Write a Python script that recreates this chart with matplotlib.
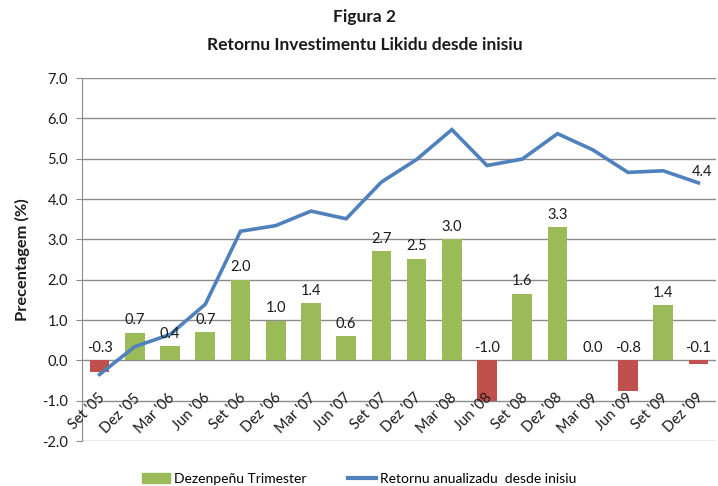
import matplotlib
matplotlib.use("Agg")
import matplotlib.pyplot as plt
from matplotlib.patches import Patch
from matplotlib.lines import Line2D
import numpy as np

plt.rcParams['font.family'] = ['Lato', 'DejaVu Sans']

categories = ["Set '05", "Dez '05", "Mar '06", "Jun '06", "Set '06", "Dez '06",
              "Mar '07", "Jun '07", "Set '07", "Dez '07", "Mar '08", "Jun '08",
              "Set '08", "Dez '08", "Mar '09", "Jun '09", "Set '09", "Dez '09"]
quarterly = [-0.3, 0.68, 0.35, 0.70, 2.0, 0.98, 1.42, 0.6, 2.7, 2.52, 3.0, -1.0,
             1.65, 3.3, 0.0, -0.76, 1.36, -0.1]
quarterly_labels = ["-0.3", "0.7", "0.4", "0.7", "2.0", "1.0", "1.4", "0.6", "2.7",
                    "2.5", "3.0", "-1.0", "1.6", "3.3", "0.0", "-0.8", "1.4", "-0.1"]
annualized = [-0.35, 0.34, 0.64, 1.39, 3.2, 3.34, 3.7, 3.51, 4.42, 4.98, 5.72, 4.83,
              4.99, 5.62, 5.22, 4.66, 4.70, 4.40]
yticks = [-2.0, -1.0, 0.0, 1.0, 2.0, 3.0, 4.0, 5.0, 6.0, 7.0]

green = '#9BBB59'
red = '#C0504D'
blue = '#4F81BD'
grid = '#8C8C8C'
txt = '#1a1a1a'

fig = plt.figure(figsize=(7.18, 4.86), dpi=100)
ax = fig.add_axes([82/718, 1-441/486, 634/718, 363/486])

x = np.arange(len(categories))
colors = [green if v >= 0 else red for v in quarterly]
ax.bar(x, quarterly, width=0.56, color=colors, zorder=2)
ax.plot(x, annualized, color=blue, lw=2.6, zorder=3, solid_joinstyle='miter')

ax.set_xlim(-0.5, len(categories) - 0.5)
ax.set_ylim(-2, 7)
ax.set_yticks(yticks)
ax.set_yticklabels([f"{t:.1f}" for t in yticks], fontsize=10.5, color=txt)
ax.yaxis.grid(True, color=grid, lw=1, zorder=1)
ax.set_axisbelow(True)
ax.set_xticks([])
for s in ['top', 'right', 'bottom']:
    ax.spines[s].set_visible(False)
ax.spines['left'].set_color(grid)
ax.tick_params(axis='y', length=4, color=grid, pad=6)

# bar value labels
for xi, v, lab in zip(x, quarterly, quarterly_labels):
    ax.annotate(lab, (xi, max(v, 0)), xytext=(0, 4), textcoords='offset points',
                ha='center', va='bottom', fontsize=10.5, color=txt)
# last line label
ax.annotate(f"{annualized[-1]:.1f}", (x[-1], annualized[-1]), xytext=(3, 3),
            textcoords='offset points', ha='center', va='bottom', fontsize=10.5,
            color=txt)

# category labels
for xi, c in zip(x, categories):
    ax.annotate(c, (xi, 0), xytext=(-1.5, -22), textcoords='offset points',
                rotation=45, ha='right', va='top', rotation_mode='anchor',
                fontsize=10.5, color=txt)

ax.set_ylabel("Precentagem (%)", fontsize=11.8, fontweight='bold', labelpad=9,
              color=txt)

fig.text(0.508, 1-17/486, "Figura 2", ha='center', va='center', fontsize=12.5,
         fontweight='bold', color=txt)
fig.text(0.508, 1-45/486, "Retornu Investimentu Likidu desde inisiu", ha='center',
         va='center', fontsize=12.5, fontweight='bold', color=txt)

handles = [Patch(color=green, label='Dezenpeñu Trimester'),
           Line2D([0], [0], color=blue, lw=3, label='Retornu anualizadu  desde inisiu')]
fig.legend(handles=handles, loc='center', bbox_to_anchor=(0.5, 1-479/486), ncol=2,
           frameon=False, fontsize=10, handlelength=2.0, columnspacing=3.0,
           handletextpad=0.3)

fig.savefig("out.png", dpi=100)
